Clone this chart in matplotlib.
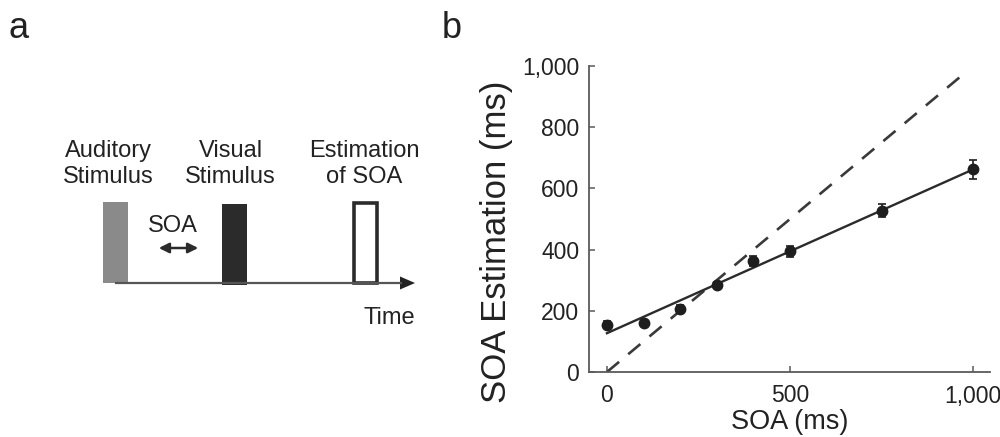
"""Panel a: trial schematic; panel b: SOA estimation versus physical SOA."""

import matplotlib
matplotlib.use("Agg")
import matplotlib.pyplot as plt
import numpy as np
from matplotlib.patches import Rectangle, FancyArrowPatch, Polygon
from matplotlib.ticker import FuncFormatter

plt.rcParams["font.family"] = ["Liberation Sans", "DejaVu Sans"]

# data
soa = [0, 100, 200, 300, 400, 500, 750, 1000]
estimate = [155, 160, 207, 285, 363, 395, 527, 662]
estimate_err = [12, 10, 12, 10, 15, 18, 22, 32]
identity_end = 980

x_ticks = [0, 500, 1000]
y_ticks = [0, 200, 400, 600, 800, 1000]

TEXT = "#222222"
SPINE = "#5a5a5a"

fig = plt.figure(figsize=(10, 4.37), dpi=100)

# ---- panel a, drawn in pixel coordinates of the whole figure
ax_a = fig.add_axes([0, 0, 1, 1])
ax_a.set_xlim(0, 1000); ax_a.set_ylim(437, 0); ax_a.axis("off")

ax_a.text(9, 28, "a", fontsize=26, color=TEXT, ha="left", va="center")
ax_a.text(442, 28, "b", fontsize=26, color=TEXT, ha="left", va="center")

# time axis with arrow head
ax_a.plot([115, 402], [283, 283], color="#555555", lw=1.6, solid_capstyle="butt")
ax_a.add_patch(Polygon([[400, 276.5], [415, 283], [400, 289.5]], closed=True,
                       color="#222222", lw=0))

ax_a.add_patch(Rectangle((103, 202), 25, 81, facecolor="#8a8a8a", edgecolor="none"))
ax_a.add_patch(Rectangle((222, 204), 25, 81, facecolor="#2b2b2b", edgecolor="none"))
ax_a.add_patch(Rectangle((353.5, 202.5), 23, 80, facecolor="white",
                         edgecolor="#2b2b2b", lw=2.6))

ax_a.add_patch(FancyArrowPatch((156, 248), (201, 248), arrowstyle="<|-|>",
                               mutation_scale=15, color="#2b2b2b", lw=1.8))
ax_a.text(173, 226, "SOA", fontsize=17, color=TEXT, ha="center", va="center")

for x, label in [(108, "Auditory\nStimulus"), (230.5, "Visual\nStimulus"),
                 (364, "Estimation\nof SOA")]:
    ax_a.text(x, 164, label, fontsize=17, color=TEXT, ha="center", va="center",
              linespacing=1.2)
ax_a.text(389, 318, "Time", fontsize=17, color=TEXT, ha="center", va="center")

# ---- panel b
ax = fig.add_axes([0.589, 1 - 372 / 437, 0.401, (372 - 66) / 437])
slope, intercept = np.polyfit(soa, estimate, 1)
fit_x = np.array([0, 1000])
ax.plot([0, identity_end], [0, identity_end], color="#3a3a3a", lw=1.9,
        dashes=(6, 4.5))
ax.plot(fit_x, intercept + slope * fit_x, color="#2b2b2b", lw=1.7)
ax.errorbar(soa, estimate, yerr=estimate_err, fmt="o", color="#1e1e1e",
            markersize=7.5, elinewidth=1.2, capsize=3, capthick=1.2)

ax.set_xlim(-49, 1046)
ax.set_ylim(0, 1000)
ax.set_xticks(x_ticks); ax.set_yticks(y_ticks)
comma = FuncFormatter(lambda v, _: f"{int(v):,}")
ax.xaxis.set_major_formatter(comma); ax.yaxis.set_major_formatter(comma)
for side in ("top", "right"):
    ax.spines[side].set_visible(False)
for side in ("left", "bottom"):
    ax.spines[side].set_color(SPINE); ax.spines[side].set_linewidth(1.3)
ax.tick_params(direction="in", length=4, width=1.1, color=SPINE,
               labelsize=16.5, labelcolor=TEXT)
ax.tick_params(axis="y", pad=7)
ax.tick_params(axis="x", pad=9)
ax.set_xlabel("SOA (ms)", fontsize=19.5, color=TEXT, labelpad=1)
ax.set_ylabel("SOA Estimation (ms)", fontsize=25, color=TEXT)
ax.yaxis.set_label_coords(-0.19, 0.425)

fig.savefig("out.png", dpi=100)
